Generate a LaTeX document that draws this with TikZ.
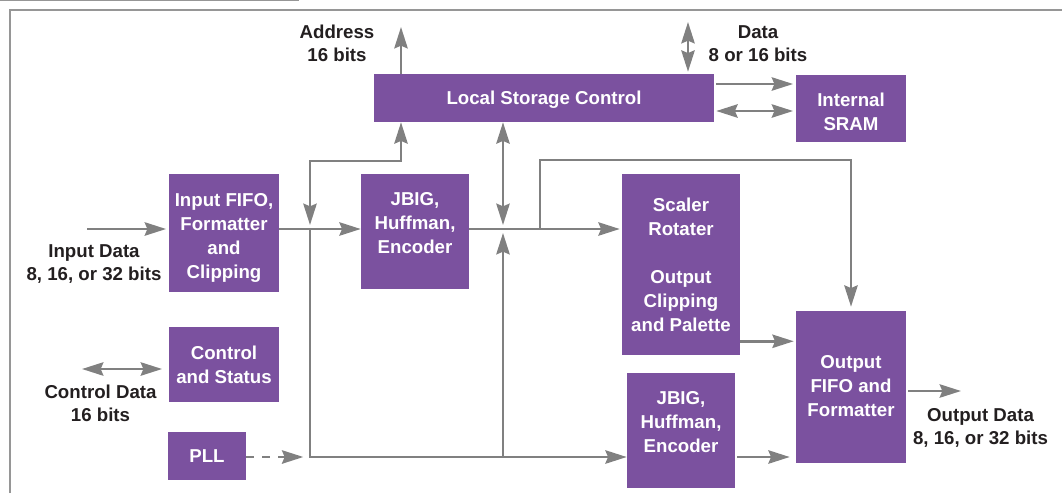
\documentclass[tikz,border=0pt]{standalone}
\usepackage{fontspec}
\setmainfont{Liberation Sans}
\usetikzlibrary{arrows.meta}
\definecolor{boxpurple}{RGB}{123,81,159}
\definecolor{wiregray}{RGB}{128,128,128}
\definecolor{framegray}{RGB}{150,150,150}
\definecolor{lbltext}{RGB}{35,31,32}
\tikzset{
  blk/.style 2 args={fill=boxpurple, text=white, font=\bfseries\fontsize{14}{18}\selectfont,
    align=center, inner sep=0pt, minimum width=#1*0.75pt, minimum height=#2*0.75pt},
  lbl/.style={text=lbltext, font=\bfseries\fontsize{14}{17.25}\selectfont, align=center, inner sep=0pt},
  wire/.style={draw=wiregray, line width=2pt},
  arr/.style={wire, -{Stealth[length=16pt,width=10pt,inset=2pt]}},
  arrs/.style={wire, {Stealth[length=16pt,width=10pt,inset=2pt]}-{Stealth[length=16pt,width=10pt,inset=2pt]}},
  dsh/.style={arr, dash pattern=on 6pt off 6pt}
}

\begin{document}
\begin{tikzpicture}[x=0.75pt, y=-0.75pt]
		%%%%% START %%%%%
		\useasboundingbox (0,0) rectangle (1062,493);
		
		\draw[framegray, line width=1.2pt] (0,0.6) -- (299,0.6);
		\draw[framegray, line width=1.2pt] (10,493) -- (10,10) -- (1062,10);
		
		\node[blk={340}{48}, text depth=0pt] (lsc) at (544,98) {Local Storage Control};
		\node[blk={110}{67}, text height=32.7pt, text depth=0pt] (sram) at (851,108.5) {Internal\\SRAM};
		\node[blk={110}{118}, text height=68.7pt, text depth=0pt] (infifo) at (224,233) {Input FIFO,\\Formatter\\and\\Clipping};
		\node[blk={108}{115}, text depth=13pt] (jbigA) at (415,231.5) {JBIG,\\Huffman,\\Encoder};
		\node[blk={118}{181}] (scaler) at (681,264.5) {Scaler\\Rotater\\[18pt]Output\\Clipping\\and Palette};
		\node[blk={110}{75}] (ctrl) at (224,364.5) {Control\\and Status};
		\node[blk={78}{48}] (pll) at (207,456) {PLL};
		\node[blk={108}{115}, text depth=13pt] (jbigB) at (681,430.5) {JBIG,\\Huffman,\\Encoder};
		\node[blk={110}{152}, text depth=2pt] (outfifo) at (851,387) {Output\\FIFO and\\Formatter};
		
		\node[lbl] (addrlbl) at (337,43.5) {Address\\16 bits};
		\node[lbl] (datalbl) at (758,43.5) {Data\\8 or 16 bits};
		\node[lbl] (inlbl) at (94,264) {Input Data\\8, 16, or 32 bits};
		\node[lbl] (ctrllbl) at (100.5,403) {Control Data\\16 bits};
		\node[lbl] (outlbl) at (980.5,428) {Output Data\\8, 16, or 32 bits};
		
		\coordinate (addr) at (401,27);
		\coordinate (dtop) at (688,22);
		\coordinate (busA) at (401,161);
		\coordinate (busB) at (851,160);
		\coordinate (jA) at (310,229);
		\coordinate (jB) at (503,229);
		\coordinate (jD) at (540,229);
		\coordinate (jP) at (310,457);
		\coordinate (idat) at (87,229);
		\coordinate (cdat) at (82,369);
		\coordinate (odat) at (961,391);
		
		\draw[arr] (lsc.north -| addr) -- (addr);
		\draw[arrs, shorten <=1.5pt] (lsc.north -| dtop) -- (dtop);
		\draw[arr, shorten <=1.5pt, shorten >=2pt] ([yshift=10.5pt]lsc.east) -- ([yshift=10.5pt]lsc.east -| sram.west);
		\draw[arrs, shorten <=1.5pt, shorten >=2pt] ([yshift=-9.75pt]lsc.east) -- ([yshift=-9.75pt]lsc.east -| sram.west);
		
		\draw[arr, shorten >=2pt] (idat) -- (infifo.west |- idat);
		\draw[arrs, shorten >=5pt] (cdat) -- (ctrl.west |- cdat);
		\draw[arr] (infifo.east |- jA) -- (jbigA.west |- jA);
		\draw[arrs, shorten <=3pt] (jA) |- (busA) -- (lsc.south -| busA);
		\draw[arr] (jA) |- (jP -| jbigB.west);
		\draw[dsh] (pll.east |- jP) -- ([xshift=-5pt]jP);
		
		\draw[arr, shorten >=1.5pt] (jbigA.east |- jB) -- (scaler.west |- jB);
		\draw[arrs, shorten >=3pt] (lsc.south -| jB) -- (jB);
		\draw[arr, shorten >=3pt] (jP -| jB) -- (jB);
		\draw[arr, shorten >=3pt] (jD) |- (busB) -- (outfifo.north -| busB);
		
		\draw[arr, shorten >=1.5pt] ([yshift=10.5pt]scaler.south east) -- ([yshift=10.5pt]scaler.south east -| outfifo.west);
		\draw[arr, shorten <=1.5pt, shorten >=4.5pt] (jbigB.east |- jP) -- (outfifo.west |- jP);
		\draw[arr, shorten <=1.5pt] (outfifo.east |- odat) -- (odat);
		
		%%%%% END %%%%%
	\end{tikzpicture}
\end{document}
